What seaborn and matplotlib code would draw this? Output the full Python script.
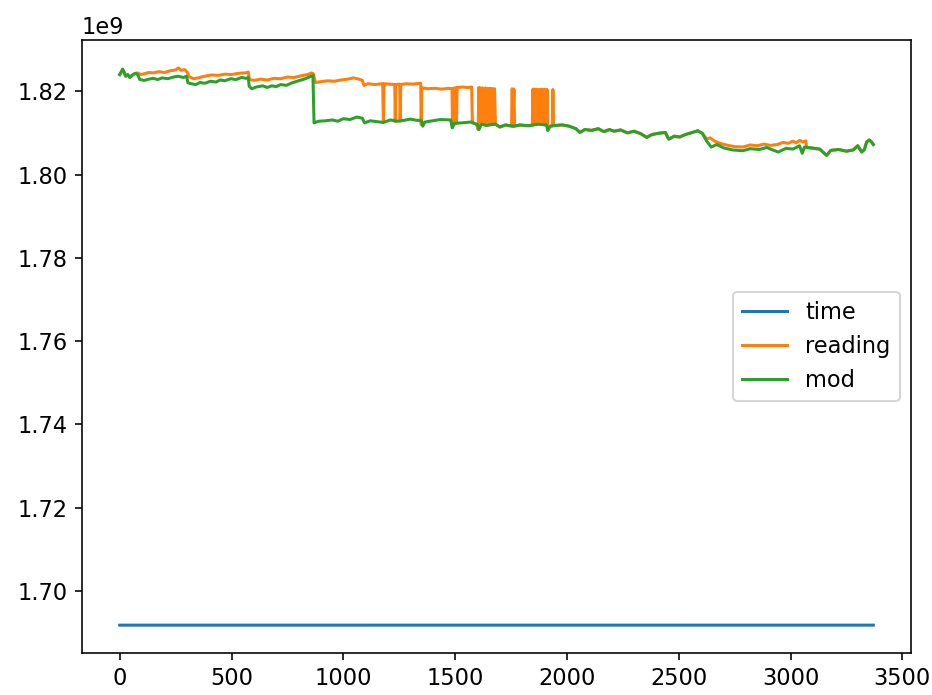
import seaborn as sns
import matplotlib.pyplot as plt

# series: time (unix seconds), raw reading and corrected value
time_x = [0, 3370]
time_y = [1691790000, 1691793370]

mod_x = [0, 8, 13, 20, 27, 36, 45, 55, 63, 72, 80, 90, 110, 130, 150, 170, 190, 215, 240, 260,
         285, 299, 305, 320, 339, 360, 380, 406, 430, 450, 470, 496, 520, 545, 565, 575, 579, 590,
         610, 640, 660, 680, 700, 720, 745, 770, 800, 830, 855, 864, 869, 890, 920, 950, 975, 1000,
         1030, 1060, 1085, 1095, 1120, 1150, 1179, 1210, 1240, 1270, 1300, 1330, 1350, 1355, 1365,
         1400, 1433, 1480, 1487, 1497, 1530, 1570, 1600, 1606, 1618, 1640, 1680, 1700, 1725, 1760,
         1790, 1830, 1870, 1908, 1914, 1925, 1950, 1980, 2010, 2040, 2058, 2080, 2110, 2140, 2165,
         2190, 2210, 2240, 2270, 2300, 2330, 2357, 2380, 2410, 2440, 2455, 2480, 2504, 2530, 2560,
         2585, 2605, 2625, 2645, 2670, 2700, 2740, 2786, 2820, 2860, 2893, 2920, 2945, 2980, 3010,
         3040, 3052, 3062, 3090, 3130, 3161, 3180, 3215, 3250, 3280, 3300, 3318, 3330, 3340, 3352,
         3362, 3370]
mod_y = [1.8240, 1.8247, 1.8253, 1.8245, 1.8236, 1.8240, 1.8233, 1.8238, 1.8241, 1.8243, 1.8240,
         1.8228, 1.8226, 1.8229, 1.8231, 1.8228, 1.8232, 1.8230, 1.8234, 1.8236, 1.8233, 1.8236,
         1.8220, 1.8218, 1.8216, 1.8221, 1.8219, 1.8224, 1.8222, 1.8227, 1.8225, 1.8230, 1.8228,
         1.8233, 1.8231, 1.8233, 1.8212, 1.8206, 1.8210, 1.8213, 1.8209, 1.8213, 1.8211, 1.8216,
         1.8214, 1.8220, 1.8225, 1.8230, 1.8236, 1.8238, 1.8124, 1.8128, 1.8129, 1.8131, 1.8128,
         1.8134, 1.8132, 1.8138, 1.8135, 1.8124, 1.8129, 1.8127, 1.8125, 1.8131, 1.8128, 1.8130,
         1.8133, 1.8130, 1.8130, 1.8116, 1.8126, 1.8129, 1.8132, 1.8131, 1.8112, 1.8123, 1.8124,
         1.8126, 1.8120, 1.8108, 1.8121, 1.8118, 1.8121, 1.8114, 1.8119, 1.8116, 1.8119, 1.8117,
         1.8121, 1.8119, 1.8106, 1.8116, 1.8118, 1.8119, 1.8116, 1.8110, 1.8101, 1.8108, 1.8106,
         1.8110, 1.8103, 1.8108, 1.8104, 1.8107, 1.8100, 1.8104, 1.8098, 1.8089, 1.8096, 1.8099,
         1.8101, 1.8085, 1.8092, 1.8090, 1.8096, 1.8101, 1.8105, 1.8099, 1.8080, 1.8066, 1.8072,
         1.8064, 1.8059, 1.8057, 1.8062, 1.8060, 1.8065, 1.8059, 1.8054, 1.8063, 1.8061, 1.8069,
         1.8051, 1.8066, 1.8064, 1.8061, 1.8046, 1.8058, 1.8060, 1.8056, 1.8059, 1.8069, 1.8054,
         1.8060, 1.8078, 1.8083, 1.8078, 1.8072]

reading_x = [0, 8, 13, 20, 27, 36, 45, 55, 63, 72, 80, 95, 110, 130, 150, 175, 200, 225, 250, 262,
             275, 290, 302, 310, 330, 350, 380, 410, 440, 470, 500, 530, 560, 575, 580, 600, 630,
             660, 690, 720, 750, 780, 810, 840, 858, 866,
             875, 900, 930, 960, 990, 1020, 1045, 1070, 1085, 1092, 1110, 1140, 1176, 1179, 1182,
             1205, 1230, 1232, 1235, 1252, 1254, 1257, 1280, 1310, 1340, 1346, 1348, 1351, 1380,
             1410, 1440, 1470, 1486, 1488, 1491, 1494, 1497, 1500, 1503, 1506, 1509, 1530, 1555,
             1574, 1577, 1595, 1603, 1606, 1609, 1614, 1617, 1623, 1626, 1634, 1636, 1640, 1644,
             1648, 1652, 1656, 1660, 1664, 1668, 1672, 1676, 1680, 1700, 1725, 1752, 1755, 1758,
             1763, 1766, 1790, 1820, 1845, 1848, 1852, 1856, 1860, 1864, 1868, 1872, 1876, 1880,
             1884, 1888, 1892, 1896, 1900, 1904, 1908, 1911, 1914, 1925, 1935, 1937, 1940, 1950,
             1980, 2010, 2040, 2058, 2080, 2110, 2140, 2165, 2190, 2210, 2240, 2270, 2300, 2330,
             2357, 2380, 2410, 2440, 2455, 2480, 2504, 2530, 2560, 2585, 2605,
             2625, 2640, 2660, 2690, 2720, 2750, 2786, 2820, 2850, 2880, 2910, 2940, 2965, 2990,
             3010, 3025, 3040, 3055, 3068, 3072,
             3090, 3130, 3161, 3180, 3215, 3250, 3280, 3300, 3318, 3330, 3340, 3352, 3362, 3370]
reading_y = [1.8240, 1.8247, 1.8253, 1.8245, 1.8236, 1.8240, 1.8233, 1.8238, 1.8241, 1.8243,
             1.8244, 1.8240, 1.8242, 1.8245, 1.8244, 1.8247, 1.8245, 1.8249, 1.8251, 1.8256,
             1.8250, 1.8252, 1.8246, 1.8235, 1.8230, 1.8232, 1.8236, 1.8239, 1.8238, 1.8241,
             1.8240, 1.8243, 1.8244, 1.8246, 1.8228, 1.8226, 1.8229, 1.8227, 1.8231, 1.8230,
             1.8234, 1.8233, 1.8237, 1.8240, 1.8244, 1.8242,
             1.8221, 1.8223, 1.8225, 1.8224, 1.8227, 1.8229, 1.8232, 1.8229, 1.8226, 1.8214,
             1.8218, 1.8216, 1.8218, 1.8125, 1.8218, 1.8217, 1.8216, 1.8127, 1.8216, 1.8217,
             1.8128, 1.8216, 1.8218, 1.8217, 1.8219, 1.8219, 1.8120, 1.8208, 1.8206, 1.8207,
             1.8205, 1.8207, 1.8206, 1.8113, 1.8207, 1.8120, 1.8208, 1.8122, 1.8208, 1.8123,
             1.8209, 1.8210, 1.8209, 1.8210, 1.8125, 1.8120, 1.8108, 1.8209, 1.8110, 1.8208,
             1.8121, 1.8208, 1.8120, 1.8119, 1.8208, 1.8118, 1.8207, 1.8119, 1.8207, 1.8120,
             1.8207, 1.8120, 1.8206, 1.8121, 1.8206, 1.8121, 1.8114, 1.8119, 1.8116, 1.8206,
             1.8116, 1.8205, 1.8116, 1.8119, 1.8117, 1.8119, 1.8205, 1.8119, 1.8205, 1.8120,
             1.8205, 1.8121, 1.8204, 1.8121, 1.8204, 1.8120, 1.8204, 1.8120, 1.8204, 1.8119,
             1.8204, 1.8119, 1.8204, 1.8106, 1.8116, 1.8117, 1.8204, 1.8117, 1.8118,
             1.8119, 1.8116, 1.8110, 1.8101, 1.8108, 1.8106, 1.8110, 1.8103, 1.8108, 1.8104,
             1.8107, 1.8100, 1.8104, 1.8098, 1.8089, 1.8096, 1.8099, 1.8101, 1.8085, 1.8092,
             1.8090, 1.8096, 1.8101, 1.8105, 1.8099,
             1.8085, 1.8088, 1.8080, 1.8074, 1.8070, 1.8067, 1.8066, 1.8071, 1.8069, 1.8073,
             1.8070, 1.8072, 1.8077, 1.8075, 1.8080, 1.8076, 1.8082, 1.8078, 1.8081, 1.8064,
             1.8064, 1.8061, 1.8046, 1.8058, 1.8060, 1.8056, 1.8059, 1.8069, 1.8054, 1.8060,
             1.8078, 1.8083, 1.8078, 1.8072]

mod_y = [v * 1e9 for v in mod_y]
reading_y = [v * 1e9 for v in reading_y]

plt.rcParams['font.size'] = 11.2

fig, ax = plt.subplots(figsize=(932 / 145, 695 / 145), dpi=145)
fig.subplots_adjust(left=0.088, right=0.9775, bottom=0.0604, top=0.9424)

sns.lineplot(x=time_x, y=time_y, ax=ax, color='C0', label='time', estimator=None, sort=False)
sns.lineplot(x=reading_x, y=reading_y, ax=ax, color='C1', label='reading', estimator=None, sort=False)
sns.lineplot(x=mod_x, y=mod_y, ax=ax, color='C2', label='mod', estimator=None, sort=False)

ax.set_xlabel('')
ax.set_ylabel('')
ax.legend(loc='center right')

fig.savefig('out.png', dpi=145)
